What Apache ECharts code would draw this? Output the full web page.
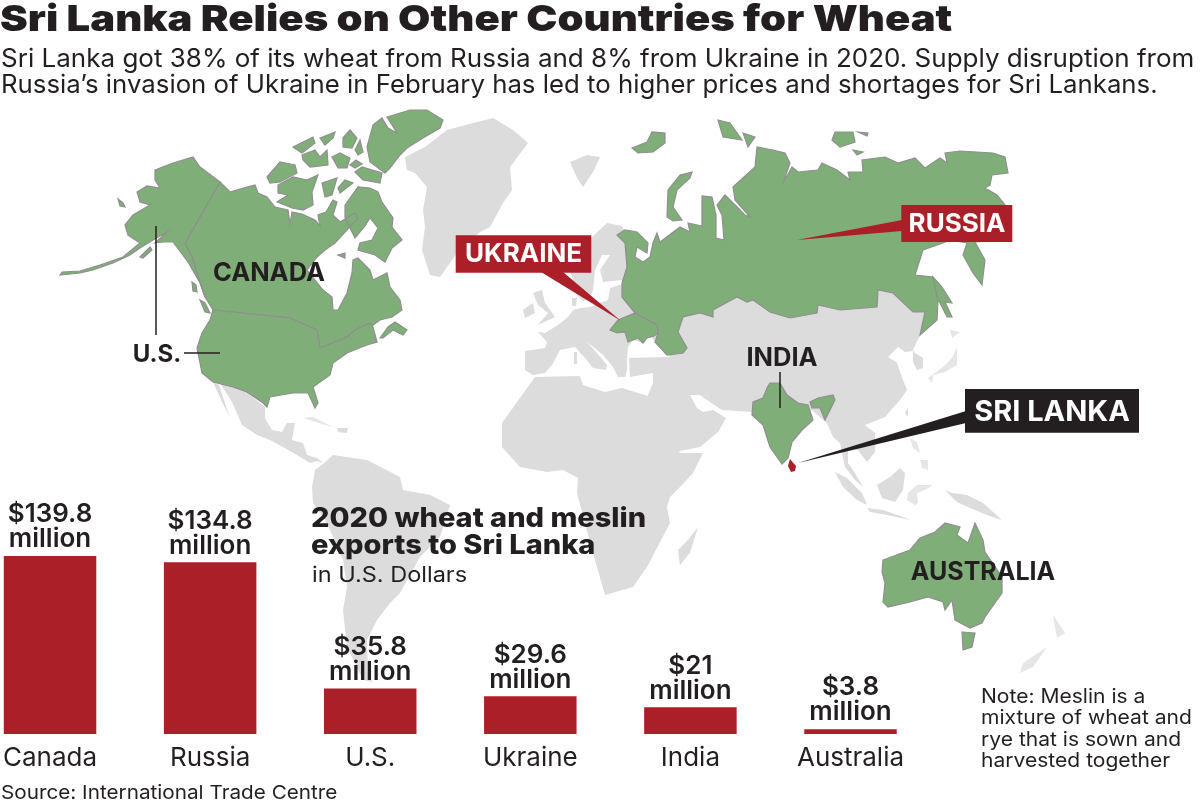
<!DOCTYPE html>
<html><head><meta charset="utf-8">
<style>html,body{margin:0;padding:0;background:#fff}#c{width:1200px;height:805px}</style>
<script src="https://cdn.jsdelivr.net/npm/echarts@6/dist/echarts.min.js"></script>
</head><body><div id="c"></div>
<script>
// ---- chart values ----
const categories = ['Canada','Russia','U.S.','Ukraine','India','Australia'];
const exportValues = [139.8,134.8,35.8,29.6,21,3.8];
const valueLabels = ['$139.8','$134.8','$35.8','$29.6','$21','$3.8'];

// ---- map outlines (map units of the reference's own projection) ----
const eurasiaOutline = [[525,370],[525,351],[545,348],[547,342],[538,332],[545,333],[558,325],[568,317],[573,310],[580,308],[590,307],[600,303],[608,300],[610,288],[623,284],[622,280],[603,282],[600,270],[610,255],[602,255],[595,270],[593,290],[590,298],[583,301],[577,295],[570,270],[592,237],[607,223],[622,226],[632,245],[640,270],[890,280],[930,310],[920,335],[913,350],[915,353],[923,358],[923,368],[917,370],[913,362],[913,351],[905,352],[898,347],[888,357],[897,363],[903,380],[907,390],[900,400],[885,417],[865,425],[875,433],[875,452],[867,462],[858,450],[848,448],[848,463],[853,470],[863,487],[855,480],[845,467],[840,443],[833,437],[827,423],[823,420],[812,410],[790,430],[752,412],[722,410],[710,402],[700,395],[690,395],[697,408],[703,412],[713,410],[726,418],[718,432],[700,447],[680,451],[668,456],[657,420],[647,397],[653,383],[653,373],[630,377],[629,358],[667,357],[670,357],[655,342],[650,335],[643,343],[633,340],[628,347],[627,357],[627,370],[625,377],[618,377],[613,367],[603,355],[587,342],[597,353],[607,365],[606,370],[593,368],[585,358],[575,347],[560,350],[552,365],[545,373],[533,375]];
const africaOutline = [[502,423],[535,377],[580,376],[583,385],[592,388],[605,392],[622,388],[648,396],[658,422],[680,453],[703,453],[693,473],[680,487],[670,497],[667,507],[670,523],[647,567],[633,587],[605,595],[593,553],[577,493],[578,478],[563,470],[547,472],[520,467],[502,447]];
const madagascarOutline = [[698,527],[690,553],[680,565],[678,550],[688,540]];
const southAmericaOutline = [[322,465],[333,455],[367,460],[400,477],[403,490],[430,495],[450,505],[440,537],[420,557],[400,593],[390,603],[377,620],[367,640],[368,677],[373,682],[363,680],[347,647],[343,610],[347,587],[343,560],[327,523],[313,503],[312,487],[315,470]];
const mexicoOutline = [[220,383],[232,402],[242,425],[257,435],[270,440],[283,447],[297,455],[310,463],[317,461],[323,463],[317,458],[307,455],[303,443],[292,440],[295,423],[287,423],[282,432],[272,430],[265,418],[265,407],[250,395],[242,385]];
const bajaOutline = [[213,382],[219,385],[228,412],[230,417],[222,402]];
const cubaOutline = [[303,418],[313,417],[333,427],[325,425],[310,420]];
const hispaniolaOutline = [[337,428],[348,428],[347,433],[338,432]];
const greenlandOutline = [[405,157],[425,147],[447,130],[473,123],[493,118],[513,130],[528,143],[510,167],[512,190],[503,203],[490,227],[480,232],[457,253],[440,277],[430,275],[422,250],[425,227],[423,210],[427,187],[415,173],[407,170]];
const svalbardOutline = [[570,162],[587,155],[600,157],[593,172],[583,187],[577,178]];
const britainOutline = [[533,293],[542,290],[545,303],[555,317],[538,325],[548,313],[538,305]];
const irelandOutline = [[523,310],[533,303],[535,313],[525,318]];
const jutlandOutline = [[572,298],[577,298],[576,306],[572,306]];
const sardiniaOutline = [[574,352],[577,352],[577,364],[574,364]];
const sumatraOutline = [[835,472],[847,478],[862,493],[867,505],[857,500],[843,487]];
const javaOutline = [[867,508],[883,510],[903,517],[910,520],[887,515],[870,512]];
const borneoOutline = [[877,485],[890,477],[900,468],[905,473],[903,490],[895,502],[882,498]];
const newGuineaOutline = [[945,490],[952,493],[967,495],[983,503],[1002,520],[987,515],[970,508],[957,502]];
const sulawesiOutline = [[908,493],[917,485],[933,485],[925,490],[917,493],[918,503],[915,505],[907,500]];
const luzonOutline = [[910,438],[917,442],[920,453],[913,448]];
const mindanaoOutline = [[920,460],[928,460],[928,470],[922,468]];
const taiwanOutline = [[908,407],[908,417],[905,413]];
const newZealandNorth = [[1053,615],[1065,633],[1057,638],[1055,627]];
const newZealandSouth = [[1047,647],[1033,667],[1020,673],[1023,663]];
const hokkaidoOutline = [[950,330],[960,332],[952,338]];
const honshuOutline = [[957,347],[957,365],[945,372],[933,375],[932,383],[928,378],[943,367],[952,358]];

const alaskaOutline = [[155,170],[173,163],[193,157],[200,167],[220,182],[185,243],[192,257],[197,273],[205,297],[200,283],[188,262],[173,242],[163,242],[155,243],[167,232],[153,240],[140,248],[130,255],[113,263],[93,270],[80,273],[60,275],[62,272],[80,271],[100,265],[123,257],[140,243],[128,235],[125,225],[133,215],[150,205],[140,202],[137,192],[147,186],[160,188],[155,180]];
const canadaOutline = [[220,182],[230,192],[247,187],[255,185],[258,193],[267,197],[275,207],[288,210],[290,224],[292,212],[302,214],[315,220],[320,226],[318,215],[326,212],[333,200],[337,202],[333,215],[340,222],[355,213],[358,218],[345,232],[335,243],[325,250],[317,257],[307,270],[323,290],[332,297],[333,310],[338,310],[347,293],[352,273],[353,260],[358,258],[370,270],[373,280],[387,273],[390,287],[400,300],[402,310],[392,317],[380,320],[372,326],[370,323],[355,330],[347,337],[320,348],[317,330],[290,318],[213,310],[205,297],[197,273],[192,257],[185,243]];
const usOutline = [[213,310],[210,320],[202,333],[197,348],[202,373],[213,382],[233,387],[247,392],[263,403],[267,407],[270,397],[293,393],[308,393],[315,408],[318,403],[313,387],[330,375],[333,363],[347,353],[367,345],[377,342],[373,327],[370,323],[355,330],[347,337],[320,348],[317,330],[290,318]];
const novaScotiaOutline = [[380,338],[388,327],[395,322],[407,330],[403,335],[393,330],[383,338]];
const arcticIslands = [
 [[267,177],[280,162],[295,165],[297,173],[280,182],[270,183]],
 [[278,185],[293,177],[307,180],[318,175],[312,192],[313,205],[303,210],[292,208],[277,202],[288,195],[278,193]],
 [[322,183],[337,178],[332,195],[325,197]],
 [[338,188],[345,180],[353,183],[340,193]],
 [[293,147],[313,137],[315,143],[302,153]],
 [[302,155],[315,150],[320,157],[327,150],[328,165],[310,167],[303,160]],
 [[320,138],[335,132],[333,138],[325,145]],
 [[332,157],[340,153],[350,158],[347,168],[338,168]],
 [[343,138],[350,130],[357,138],[352,148],[343,147]],
 [[355,150],[360,140],[363,152],[358,155]],
 [[355,172],[362,167],[382,173],[380,183],[363,180]],
 [[350,165],[356,160],[362,164],[355,168]],
 [[367,147],[373,125],[382,118],[388,128],[397,133],[387,117],[410,110],[427,110],[443,120],[440,128],[423,138],[407,148],[400,155],[390,168],[385,173],[370,162]],
 [[345,205],[358,187],[370,188],[378,192],[382,202],[393,218],[392,227],[402,240],[392,248],[385,262],[375,255],[358,250],[360,243],[372,240],[378,228],[370,218],[365,226],[355,238],[350,228],[345,218]],
 [[338,255],[345,253],[345,258]],
 [[192,282],[196,285],[197,292],[193,291]],
 [[200,300],[205,303],[210,313],[205,312]],
 [[118,199],[123,203],[125,207],[120,206]],
 [[140,257],[150,247],[152,250],[143,258]]
];
const russiaOutline = [[617,235],[625,230],[637,232],[648,243],[647,253],[637,247],[635,257],[643,262],[650,257],[653,243],[657,233],[660,242],[680,227],[690,232],[688,223],[702,226],[702,196],[712,197],[716,215],[716,238],[724,240],[722,215],[717,205],[725,195],[745,215],[750,217],[735,200],[733,187],[755,167],[757,147],[773,150],[785,153],[790,163],[783,183],[792,167],[798,172],[818,170],[822,163],[837,170],[850,180],[848,172],[863,172],[862,160],[885,157],[898,163],[915,158],[925,168],[940,158],[947,163],[945,153],[960,151],[993,153],[1005,157],[1008,173],[992,175],[990,185],[985,188],[997,195],[1005,205],[1000,240],[975,242],[985,260],[982,285],[973,273],[963,255],[967,243],[950,240],[943,243],[923,250],[915,275],[933,277],[938,300],[937,320],[920,335],[925,312],[913,312],[893,293],[878,290],[877,307],[840,310],[818,305],[817,313],[790,318],[770,312],[753,300],[747,302],[737,297],[713,310],[713,317],[700,313],[683,317],[678,332],[687,348],[683,353],[667,355],[655,342],[658,333],[657,325],[640,317],[635,313],[622,297],[622,283],[627,267],[625,243]];
const russiaIslands = [
 [[667,217],[668,190],[680,175],[692,172],[690,178],[677,190],[673,207],[682,220],[673,221]],
 [[632,148],[647,142],[652,132],[665,133],[665,143],[653,152],[638,153]],
 [[718,120],[730,123],[742,140],[723,137]],
 [[743,133],[755,137],[748,147]],
 [[835,132],[853,132],[855,142],[840,147],[832,140]],
 [[858,132],[868,133],[867,136]],
 [[853,150],[863,152],[857,155]],
 [[933,277],[942,287],[952,303],[945,302],[952,317],[947,317],[937,297]]
];
const ukraineOutline = [[610,330],[618,320],[635,313],[657,325],[658,333],[654,336],[647,338],[643,343],[638,338],[628,342],[625,332],[617,333]];
const indiaOutline = [[770,383],[780,383],[787,395],[798,403],[808,405],[813,420],[802,430],[792,442],[788,458],[782,464],[770,447],[763,425],[752,415],[753,402],[763,398],[767,388]];
const indiaEastOutline = [[818,398],[833,395],[835,400],[825,420],[820,408],[812,408],[810,402]];
const australiaOutline = [[883,560],[910,550],[920,538],[935,532],[945,523],[960,527],[957,535],[968,543],[975,523],[983,540],[985,552],[1002,577],[1002,593],[985,617],[982,623],[970,628],[955,620],[952,600],[945,610],[943,602],[928,597],[910,602],[888,607],[883,602],[885,583],[882,572]];
const tasmaniaOutline = [[962,632],[975,633],[972,647],[963,650]];
const sriLankaOutline = [[790,459],[796,466],[795,471],[791,472],[788,466]];

const poly = (name, ...rings) => ({type:'Feature',properties:{name},geometry:{type:'MultiPolygon',coordinates:rings.map(r=>[r.concat([r[0]])])}});
const worldMap = {type:'FeatureCollection',features:[
  poly('Eurasia',eurasiaOutline,jutlandOutline,sardiniaOutline), poly('Africa',africaOutline,madagascarOutline), poly('South America',southAmericaOutline),
  poly('Mexico',mexicoOutline,bajaOutline,hispaniolaOutline), poly('Greenland',greenlandOutline), poly('Svalbard',svalbardOutline), poly('British Isles',britainOutline,irelandOutline),
  poly('Indonesia',sumatraOutline,javaOutline,borneoOutline,newGuineaOutline,taiwanOutline),
  poly('Faint',sulawesiOutline,luzonOutline,mindanaoOutline,hokkaidoOutline,honshuOutline,cubaOutline,newZealandNorth,newZealandSouth),
  poly('Canada',canadaOutline,novaScotiaOutline,...arcticIslands), poly('US',usOutline,alaskaOutline),
  poly('Russia',russiaOutline,...russiaIslands), poly('Ukraine',ukraineOutline), poly('India',indiaOutline,indiaEastOutline),
  poly('Australia',australiaOutline,tasmaniaOutline), poly('Sri Lanka',sriLankaOutline)
]};
echarts.registerMap('world', worldMap);

const GREEN='#7fae78', EDGE='#8f8f8f', LAND='#dcdcdc', RED='#ab2028', INK='#231f20', FONT='Inter, sans-serif';
const greenRegion = n => ({name:n,itemStyle:{areaColor:GREEN,borderColor:EDGE,borderWidth:1.2}});

// text placed by its baseline; sx widens the face to the reference's letter widths
const txt = (text,x,base,size,weight,fill,align,sx) => ({type:'text',x,y:base-0.36*size,z:100,scaleX:sx||1,style:{text,fontFamily:FONT,fontSize:size,fontWeight:weight,fill,align:align||'left',verticalAlign:'middle'}});
const shape = (points,fill) => ({type:'polygon',z:99,shape:{points},style:{fill}});
const rule = (x1,y1,x2,y2) => ({type:'line',z:100,shape:{x1,y1,x2,y2},style:{stroke:INK,lineWidth:1.5}});
const box = (x,y,width,height,fill) => ({type:'rect',z:99,shape:{x,y,width,height},style:{fill}});

const chart = echarts.init(document.getElementById('c'),null,{renderer:'canvas'});
chart.setOption({
  animation:false,
  backgroundColor:'#fff',
  geo:{map:'world',roam:false,silent:true,z:0,left:0,top:0,width:1200,height:805,
    projection:{project:p=>p,unproject:p=>p},boundingCoords:[[0,0],[1200,805]],
    label:{show:false},
    itemStyle:{areaColor:LAND,borderColor:LAND,borderWidth:0},
    regions:[greenRegion('Canada'),greenRegion('US'),greenRegion('Russia'),greenRegion('Ukraine'),greenRegion('India'),greenRegion('Australia'),
      {name:'Sri Lanka',itemStyle:{areaColor:RED,borderColor:RED,borderWidth:0}},
      {name:'Faint',itemStyle:{areaColor:'#e6e6e6',borderWidth:0}}]},
  grid:{left:48.5,width:802,bottom:71,height:178.25,containLabel:false},
  xAxis:{type:'category',boundaryGap:false,data:categories,axisLine:{show:false},axisTick:{show:false},
    axisLabel:{fontFamily:FONT,fontSize:26,color:INK,margin:11,interval:0,
      formatter:v=>v==='U.S.'?'{up|'+v+'}':v,rich:{up:{fontFamily:FONT,fontSize:26,color:INK,padding:[0,0,7,0]}}}},
  yAxis:{type:'value',min:0,max:140,show:false},
  series:[{type:'bar',z:2,barWidth:92.5,silent:true,clip:false,
    data:exportValues.map((v,i)=>({value:v,label:{formatter:valueLabels[i]+'\nmillion'}})),
    itemStyle:{color:RED},
    label:{show:true,position:'top',distance:4,fontFamily:FONT,fontSize:26,fontWeight:600,color:INK,lineHeight:25,align:'center'}}],
  graphic:{elements:[
    txt('Sri Lanka Relies on Other Countries for Wheat',0,33,36,900,INK,'left',1.16),
    txt('Sri Lanka got 38% of its wheat from Russia and 8% from Ukraine in 2020. Supply disruption from',1,69,25.5,400,INK,'left',1.02),
    txt('Russia’s invasion of Ukraine in February has led to higher prices and shortages for Sri Lankans.',1,95,25.5,400,INK,'left',1.011),
    box(455.7,235.3,135.6,37.4,RED), shape([[541,272],[563,272],[620.7,320.7]],RED),
    box(901.3,205,111,37,RED), shape([[902,220],[902,231],[797,240]],RED),
    box(965,389,174,43.7,INK), shape([[966,411],[966,423],[798,463]],INK),
    txt('UKRAINE',523.5,264,26,700,'#fff','center'),
    txt('RUSSIA',957,234,26,700,'#fff','center'),
    txt('SRI LANKA',1052,423,29,700,'#fff','center'),
    txt('CANADA',269,283,25.5,700,INK,'center'),
    txt('U.S.',157,363,24,700,INK,'center'),
    txt('INDIA',782,368,25.5,700,INK,'center'),
    txt('AUSTRALIA',983,581,25,700,INK,'center'),
    rule(156,226,156,335), rule(184,353,220,353), rule(780,372,780,408),
    txt('2020 wheat and meslin',311,529,27,800,INK,'left',1.074),
    txt('exports to Sri Lanka',311,556,27,800,INK,'left',1.074),
    txt('in U.S. Dollars',312,583,21,400,INK,'left',1.12),
    txt('Note: Meslin is a',981,704,19.5,400,INK,'left',1.08),
    txt('mixture of wheat and',981,725,19.5,400,INK,'left',1.08),
    txt('rye that is sown and',981,747,19.5,400,INK,'left',1.08),
    txt('harvested together',981,768,19.5,400,INK,'left',1.08),
    txt('Source: International Trade Centre',1,800,19,400,INK,'left',1.09)
  ]}
});
</script></body></html>
